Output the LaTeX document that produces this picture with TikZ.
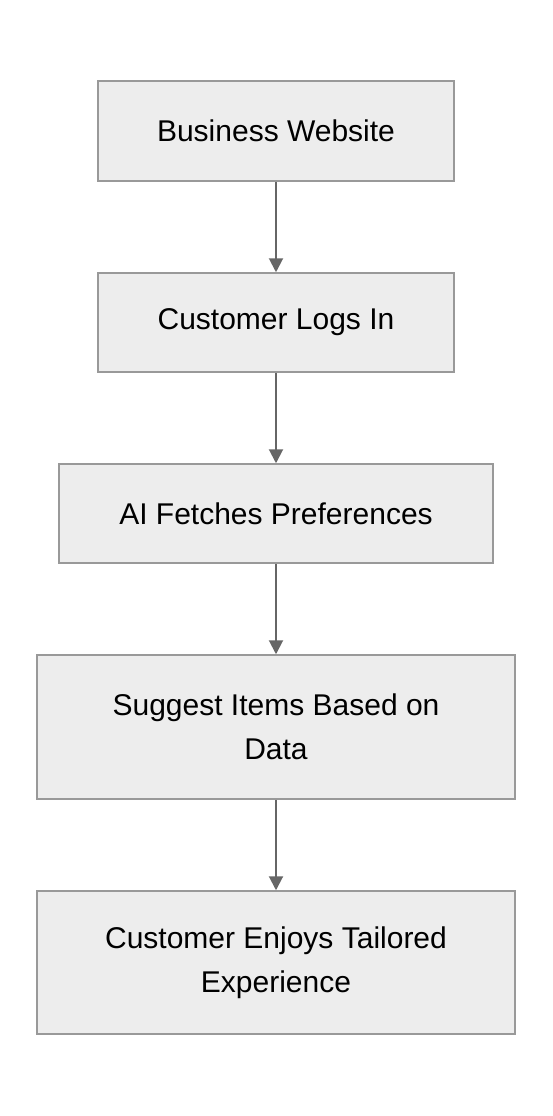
\documentclass[tikz,border=0pt]{standalone}
\usepackage{fontspec}
\setmainfont{Liberation Sans}
\usetikzlibrary{arrows.meta}
\begin{document}
\begin{tikzpicture}[x=1pt,y=-1pt,
  box/.style={draw=black!40, fill=black!7, line width=1.5pt, align=center, font=\fontsize{30}{44}\selectfont, inner sep=0pt},
  conn/.style={draw=black!60, line width=2pt, -{Triangle[length=14pt,width=14pt]}}]
\useasboundingbox (0,0) rectangle (552,1116);
\node[box, minimum width=356pt, minimum height=100pt] (n1) at (276,131) {Business Website};
\node[box, minimum width=356pt, minimum height=99pt] (n2) at (276,322.5) {Customer Logs In};
\node[box, minimum width=434pt, minimum height=99pt] (n3) at (276,513.5) {AI Fetches Preferences};
\node[box, minimum width=478pt, minimum height=144pt] (n4) at (276,727) {Suggest Items Based on\\Data};
\node[box, minimum width=478pt, minimum height=143pt] (n5) at (276,962.5) {Customer Enjoys Tailored\\Experience};
\draw[conn] (n1.south) -- (n2.north);
\draw[conn] (n2.south) -- (n3.north);
\draw[conn] (n3.south) -- (n4.north);
\draw[conn] (n4.south) -- (n5.north);
\end{tikzpicture}
\end{document}
